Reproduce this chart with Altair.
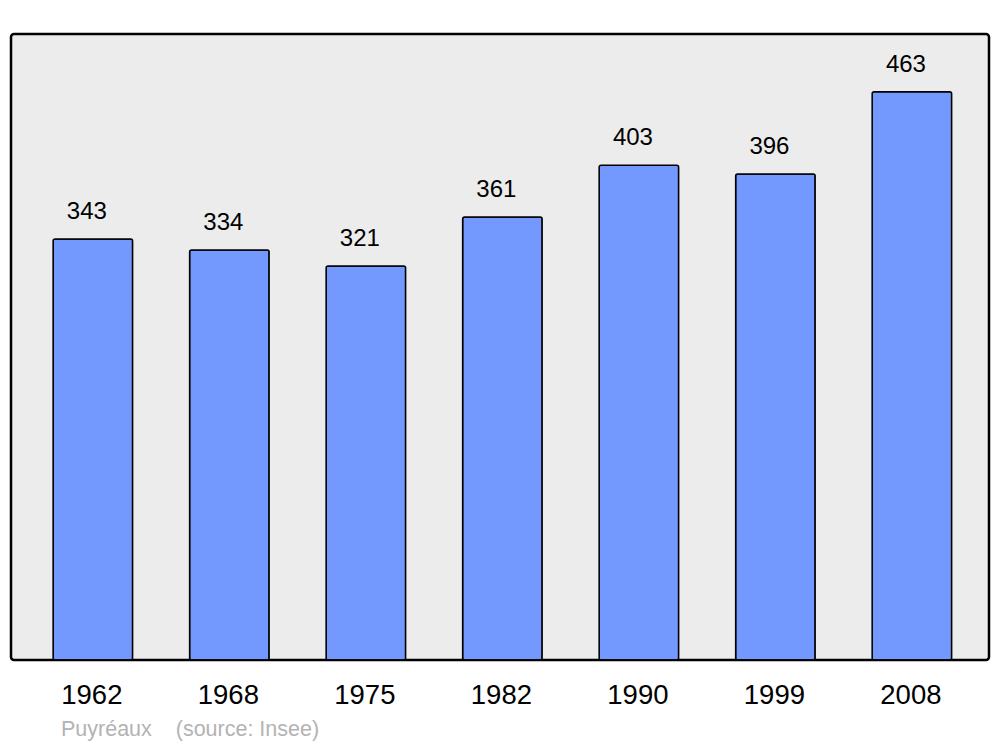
import altair as alt
import pandas as pd

years = ["1962", "1968", "1975", "1982", "1990", "1999", "2008"]
population = [343, 334, 321, 361, 403, 396, 463]

df = pd.DataFrame({"year": years, "pop": population})

x = alt.X(
    "year:N",
    sort=years,
    scale=alt.Scale(paddingInner=0.4176, paddingOuter=0.291, align=0.53),
    axis=alt.Axis(
        title=None,
        labelAngle=0,
        ticks=False,
        tickSize=0,
        domain=False,
        grid=False,
        labelPadding=21,
        labelFont="Liberation Sans",
        labelFontSize=27.5,
        labelColor="#000000",
        labelBaseline="top",
        labelOffset=-1,
    ),
)
y = alt.Y(
    "pop:Q",
    scale=alt.Scale(domain=[0, 510], nice=False, zero=True),
    axis=None,
)

bars = alt.Chart(df).mark_bar(
    color="#7399ff",
    stroke="#000000",
    strokeWidth=1.5,
    cornerRadius=2,
).encode(x=x, y=y)

labels = alt.Chart(df).mark_text(
    font="Liberation Sans",
    fontSize=24,
    color="#000000",
    baseline="alphabetic",
    dy=-20,
    dx=-6,
).encode(x=x, y=y, text="pop:Q")

chart = (
    alt.layer(bars, labels)
    .properties(
        width=978,
        height=626,
        background="#ffffff",
        autosize=alt.AutoSizeParams(type="none"),
        padding={"left": 3, "top": 26, "right": 3, "bottom": 90},
        title=alt.TitleParams(
            text="Puyréaux\u00a0\u00a0\u00a0\u00a0(source: Insee)",
            orient="bottom",
            anchor="start",
            font="Liberation Sans",
            fontSize=21.5,
            fontWeight="normal",
            color="#b3b3b3",
            dx=50,
            offset=10,
        ),
    )
    .configure_view(
        fill="#ececec",
        stroke="#000000",
        strokeWidth=2.5,
        cornerRadius=3,
    )
)

chart.save("out.html", embed_options={"renderer": "svg", "actions": False})
